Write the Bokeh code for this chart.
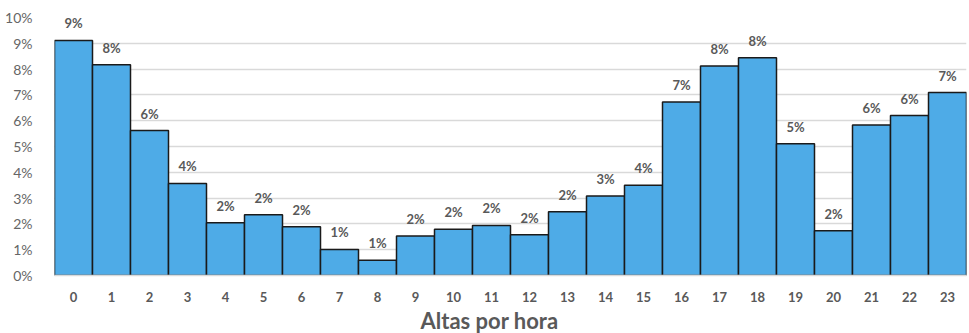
from bokeh.plotting import figure
from bokeh.models import ColumnDataSource, Range1d, FixedTicker, NumeralTickFormatter, Title
from bokeh.core.properties import value
from bokeh.embed import file_html
from bokeh.resources import INLINE

hours = list(range(24))
shares = [0.0911, 0.0817, 0.0562, 0.0357, 0.0204, 0.0235, 0.0189, 0.0101,
          0.0059, 0.0153, 0.0179, 0.0194, 0.0158, 0.0247, 0.0308, 0.0350,
          0.0672, 0.0812, 0.0844, 0.0511, 0.0173, 0.0583, 0.0620, 0.0709]
labels = ["9%", "8%", "6%", "4%", "2%", "2%", "2%", "1%", "1%", "2%", "2%", "2%",
          "2%", "2%", "3%", "4%", "7%", "8%", "8%", "5%", "2%", "6%", "6%", "7%"]
y_ticks = [i / 100 for i in range(11)]
x_title = "Altas por hora"

src = ColumnDataSource(dict(x=hours, y=shares, lab=labels))

FONT = "Lato"
GRAY = "#595959"

p = figure(width=969, height=333, output_backend="svg", toolbar_location=None,
           x_range=Range1d(-0.5, 23.5), y_range=Range1d(0, 0.10),
           min_border_left=54, min_border_right=3, min_border_top=17,
           min_border_bottom=58)
p.outline_line_color = None
p.background_fill_color = "white"
p.border_fill_color = "white"

p.vbar(x="x", top="y", width=1.0, source=src, fill_color="#4EABE7",
       line_color="#1a1a1a", line_width=1.5)

p.text(x="x", y="y", text="lab", source=src, text_align="center",
       text_baseline="bottom", y_offset=-9, text_color=GRAY,
       text_font=value(FONT), text_font_size="13px", text_font_style="bold")

p.xgrid.grid_line_color = None
p.ygrid.grid_line_color = "#d9d9d9"
p.ygrid.grid_line_width = 1.5
p.ygrid.ticker = FixedTicker(ticks=y_ticks)

ya = p.yaxis[0]
ya.ticker = FixedTicker(ticks=y_ticks)
ya.formatter = NumeralTickFormatter(format="0%")
ya.axis_line_color = None
ya.major_tick_line_color = None
ya.minor_tick_line_color = None
ya.major_label_standoff = 16
ya.major_label_text_font = FONT
ya.major_label_text_font_size = "14px"
ya.major_label_text_color = "#666666"

xa = p.xaxis[0]
xa.ticker = FixedTicker(ticks=hours)
xa.axis_line_color = "#d9d9d9"
xa.axis_line_width = 1.5
xa.major_tick_line_color = None
xa.minor_tick_line_color = None
xa.major_label_standoff = 10
xa.major_label_text_font = FONT
xa.major_label_text_font_size = "13px"
xa.major_label_text_font_style = "bold"
xa.major_label_text_color = GRAY

t = Title(text=x_title, align="left", offset=366, standoff=0,
          text_font=FONT, text_font_size="22px", text_font_style="bold",
          text_color=GRAY)
p.add_layout(t, "below")

open("out.html", "w").write(file_html(p, INLINE))
